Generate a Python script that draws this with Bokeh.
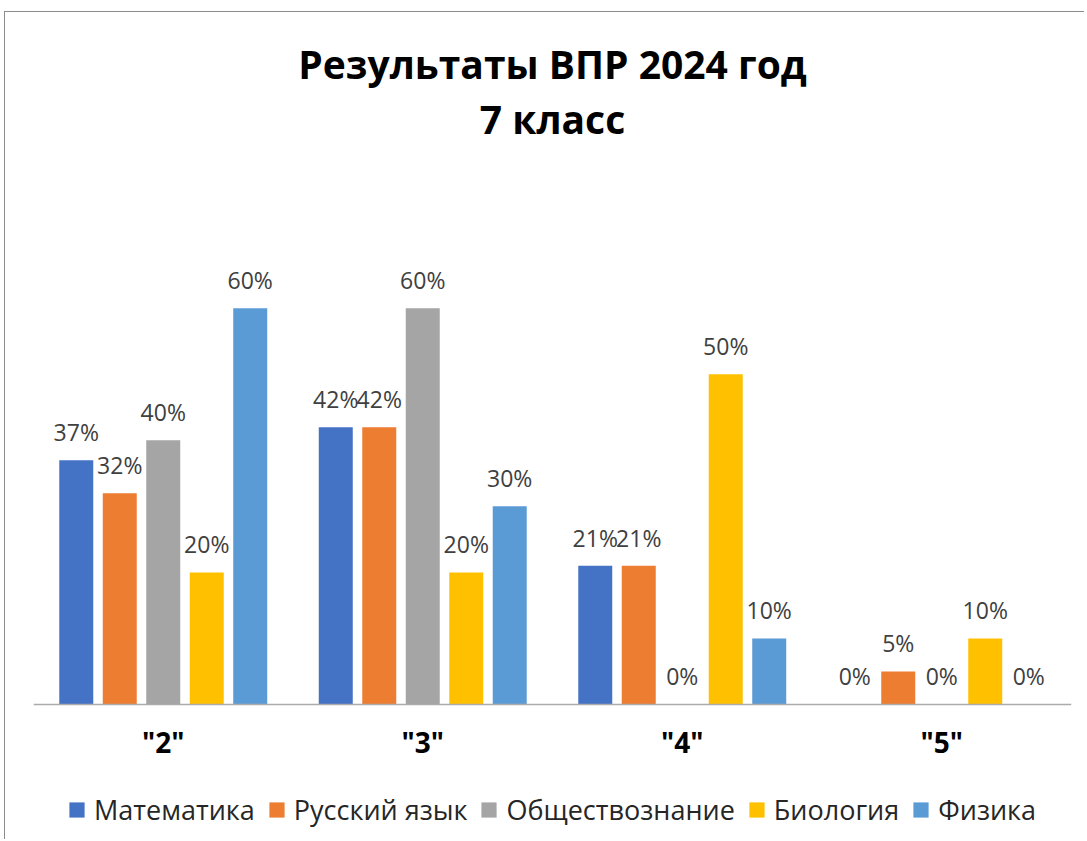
from bokeh.plotting import figure
from bokeh.models import (ColumnDataSource, FactorRange, Range1d, LabelSet,
                          Legend, LegendItem, Title, Span)
from bokeh.core.properties import value
from bokeh.transform import dodge
from bokeh.embed import file_html
from bokeh.resources import INLINE

categories = ['"2"', '"3"', '"4"', '"5"']
series = ["Математика", "Русский язык", "Обществознание", "Биология", "Физика"]
math = [0.37, 0.42, 0.21, 0.00]
russian = [0.32, 0.42, 0.21, 0.05]
social = [0.40, 0.60, 0.00, 0.00]
biology = [0.20, 0.20, 0.50, 0.10]
physics = [0.60, 0.30, 0.10, 0.00]
colors = ["#4472C4", "#ED7D31", "#A5A5A5", "#FFC000", "#5B9BD5"]

values = [math, russian, social, biology, physics]

FONT = "Open Sans"

p = figure(width=1080, height=828, output_backend="svg", toolbar_location=None,
           x_range=FactorRange(*categories, range_padding=0),
           y_range=Range1d(-0.206, 0.848), title=None,
           min_border_left=28, min_border_right=14, min_border_top=132,
           min_border_bottom=0)
p.styles = {"margin-left": "4px", "margin-top": "11px",
            "border-left": "1px solid #8c8c8c", "border-top": "1px solid #8c8c8c"}
p.outline_line_color = None
p.xgrid.grid_line_color = None
p.ygrid.grid_line_color = None
p.xaxis.visible = False
p.yaxis.visible = False

pitch = 0.1676
width = 0.131
offsets = [-2 * pitch, -pitch, 0, pitch, 2 * pitch]

items = []
for name, vals, col, off in zip(series, values, colors, offsets):
    src = ColumnDataSource(dict(x=categories, y=vals,
                                lbl=[f"{round(v * 100)}%" for v in vals]))
    r = p.vbar(x=dodge("x", off, range=p.x_range), top="y", width=width,
               source=src, fill_color=col, line_color=None)
    items.append(LegendItem(label=name, renderers=[r]))
    lab = LabelSet(x=dodge("x", off, range=p.x_range), y="y", text="lbl",
                   source=src, text_align="center", text_baseline="bottom",
                   y_offset=12, text_font=value(FONT),
                   text_font_size=value("23px"), text_color="#404040")
    p.add_layout(lab)

# category axis: baseline and labels
p.add_layout(Span(location=0, dimension="width", line_color="#ABABAB",
                  line_width=1.5))
cat_src = ColumnDataSource(dict(x=categories, y=[0] * len(categories),
                                t=categories))
p.add_layout(LabelSet(x="x", y="y", text="t", source=cat_src,
                      text_align="center", text_baseline="middle",
                      y_offset=-38, text_font=value(FONT),
                      text_font_size=value("28px"), text_font_style="bold",
                      text_color="#000000"))

legend = Legend(items=items, orientation="horizontal", location=(34, 12),
                label_text_font=FONT, label_text_font_size="27px",
                label_text_color="#262626", glyph_width=19, glyph_height=19,
                label_standoff=8, spacing=12, border_line_color=None,
                background_fill_alpha=0, padding=2, margin=0)
p.add_layout(legend, "center")

t2 = Title(text="7 класс", align="center", text_font=FONT,
           text_font_size="39px", text_font_style="bold", text_color="#000000",
           standoff=0)
t1 = Title(text="Результаты ВПР 2024 год", align="center", text_font=FONT,
           text_font_size="39px", text_font_style="bold", text_color="#000000",
           standoff=0)
p.add_layout(t2, "above")
p.add_layout(t1, "above")

open("out.html", "w").write(file_html(p, INLINE))
